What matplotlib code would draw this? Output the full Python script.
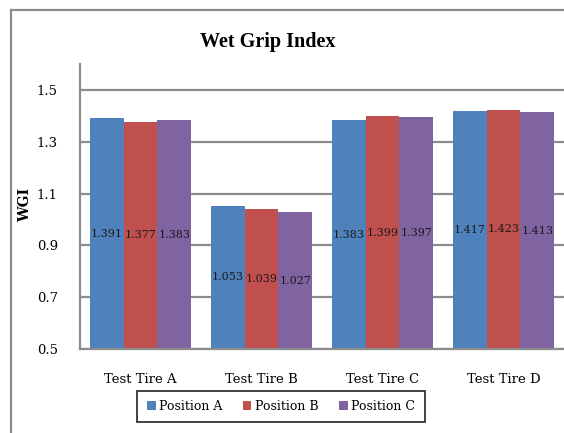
"""
Wet Grip Index bar chart, Excel-like look.
"""

import numpy as np
import matplotlib
matplotlib.use("Agg")
import matplotlib.pyplot as plt
from matplotlib.lines import Line2D

# --- Data ---
tires = ["Test Tire A", "Test Tire B", "Test Tire C", "Test Tire D"]
positions = ["Position A", "Position B", "Position C"]
pos_a = [1.391, 1.053, 1.383, 1.417]
pos_b = [1.377, 1.039, 1.399, 1.423]
pos_c = [1.383, 1.027, 1.397, 1.413]
y_ticks = [0.5, 0.7, 0.9, 1.1, 1.3, 1.5]

# --- Style ---
colors = ["#4F81BD", "#C0504D", "#8064A2"]
grid_gray = "#8C8C8C"
W, H = 564, 433
plt.rcParams['font.family'] = ['DejaVu Serif']

fig = plt.figure(figsize=(W / 100, H / 100), dpi=100)

# outer chart frame: only its left and top edges are inside the crop
fx, fy = 10.5 / W, 1 - 10 / H
fig.add_artist(Line2D([fx, fx], [0, fy], transform=fig.transFigure,
                      color=grid_gray, linewidth=1.6))
fig.add_artist(Line2D([fx, 1], [fy, fy], transform=fig.transFigure,
                      color=grid_gray, linewidth=1.6))

ax = fig.add_axes([80 / W, 1 - 349 / H, (W - 80) / W, (349 - 64) / H])

x = np.arange(len(tires))
bar_w = 0.28
series = [pos_a, pos_b, pos_c]
bottom = 0.5
for i, (vals, name) in enumerate(zip(series, positions)):
    heights = np.array(vals) - bottom
    bars = ax.bar(x + (i - 1) * bar_w, heights, bar_w, bottom=bottom,
                  color=colors[i], label=name, zorder=2)
    for rect, v in zip(bars, vals):
        ax.text(rect.get_x() + rect.get_width() / 2, bottom + (v - bottom) / 2,
                f"{v:.3f}", ha='center', va='center', fontsize=8,
                color='#1a1a1a', zorder=3)

ax.set_xlim(-0.5, len(tires) - 0.5)
ax.set_ylim(0.5, 1.6)
ax.set_yticks(y_ticks)
ax.set_yticklabels([f"{t:.1f}" for t in y_ticks])
ax.set_xticks(x)
ax.set_xticklabels(tires)
ax.tick_params(axis='y', length=0, pad=16, labelsize=9.5)
ax.tick_params(axis='x', length=0, pad=17, labelsize=9.5)

ax.grid(axis='y', color=grid_gray, linewidth=1.6, zorder=0)
ax.set_axisbelow(True)
for side in ['top', 'right']:
    ax.spines[side].set_visible(False)
for side in ['left', 'bottom']:
    ax.spines[side].set_color(grid_gray)
    ax.spines[side].set_linewidth(1.6)

# title and axis title
fig.text(268 / W, 1 - 42 / H, "Wet Grip Index", ha='center', va='center',
         fontsize=14.5, fontweight='bold', family=['Liberation Serif'])
fig.text(25 / W, 1 - 205 / H, "WGI", ha='center', va='center', rotation=90,
         fontsize=10, fontweight='bold')

leg = fig.legend(loc='center', bbox_to_anchor=(281 / W, 1 - 406.5 / H),
                 ncol=3, frameon=True, fancybox=False, fontsize=9,
                 handlelength=0.7, handleheight=0.7, handletextpad=0.3,
                 columnspacing=1.6, borderpad=0.75)
leg.get_frame().set_edgecolor('black')
leg.get_frame().set_linewidth(1.3)

fig.savefig("out.png", dpi=100)
